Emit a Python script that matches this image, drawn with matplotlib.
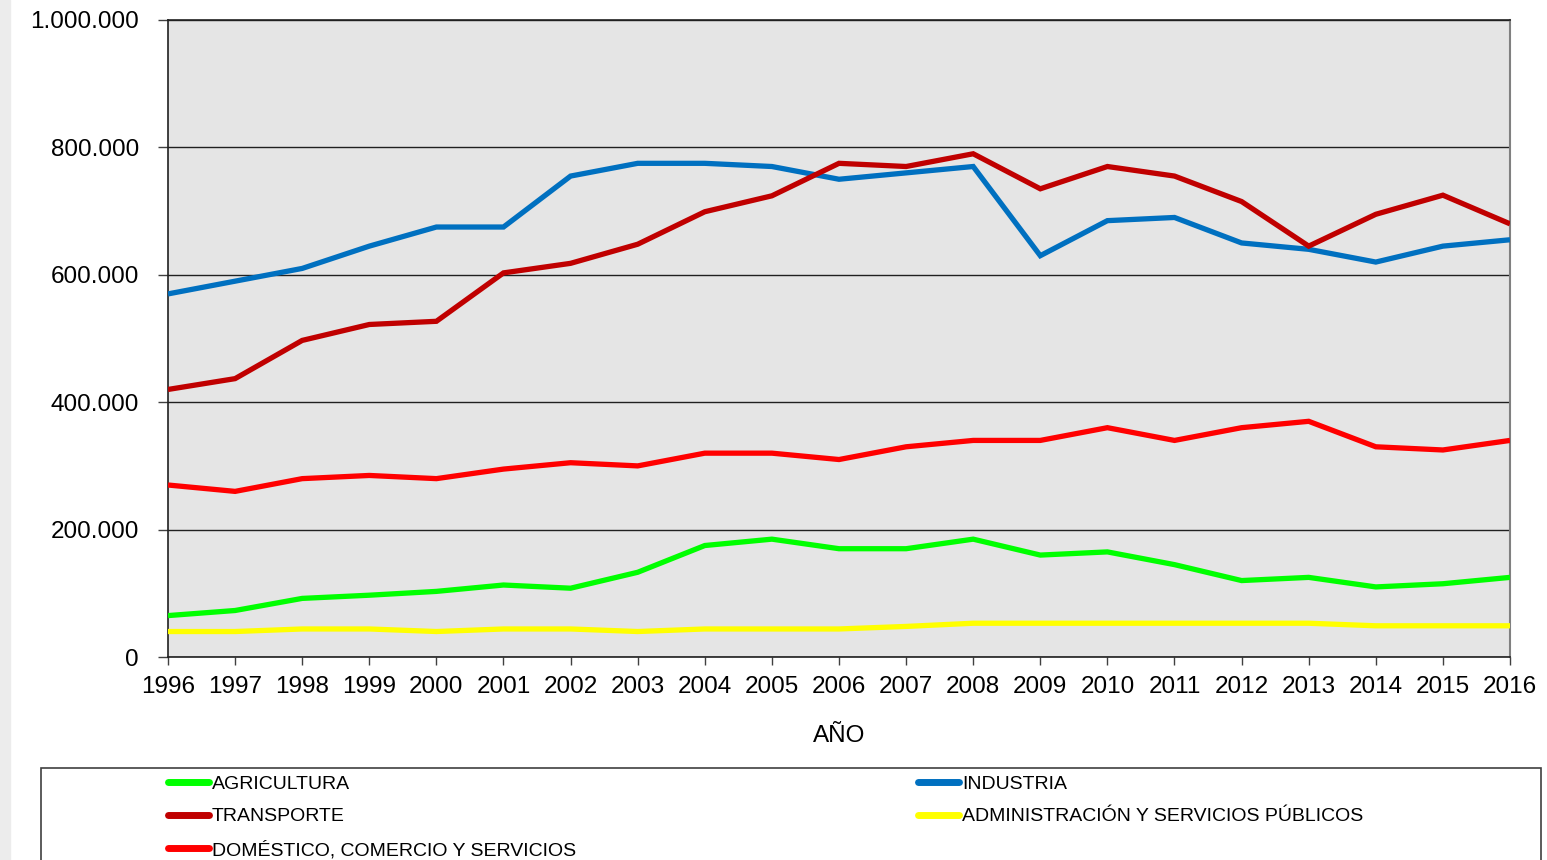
import matplotlib.pyplot as plt
from matplotlib.lines import Line2D
from matplotlib.patches import Rectangle
from matplotlib.ticker import FuncFormatter

plt.rcParams['font.family'] = ['Liberation Sans', 'DejaVu Sans']

years = list(range(1996, 2017))

agricultura = [65000, 73000, 92000, 97000, 103000, 113000, 108000, 133000, 175000, 185000, 170000,
               170000, 185000, 160000, 165000, 145000, 120000, 125000, 110000, 115000, 125000]
industria = [570000, 590000, 610000, 645000, 675000, 675000, 755000, 775000, 775000, 770000, 750000,
             760000, 770000, 630000, 685000, 690000, 650000, 640000, 620000, 645000, 655000]
transporte = [420000, 437000, 497000, 522000, 527000, 603000, 618000, 648000, 699000, 724000, 775000,
              770000, 790000, 735000, 770000, 755000, 715000, 645000, 695000, 725000, 680000]
administracion = [40000, 40000, 44000, 44000, 40000, 44000, 44000, 40000, 44000, 44000, 44000,
                  48000, 53000, 53000, 53000, 53000, 53000, 53000, 49000, 49000, 49000]
domestico = [270000, 260000, 280000, 285000, 280000, 295000, 305000, 300000, 320000, 320000, 310000,
             330000, 340000, 340000, 360000, 340000, 360000, 370000, 330000, 325000, 340000]

labels = ['AGRICULTURA', 'INDUSTRIA', 'TRANSPORTE',
          'ADMINISTRACIÓN Y SERVICIOS PÚBLICOS', 'DOMÉSTICO, COMERCIO Y SERVICIOS']
colors = ['#00ff00', '#0070c0', '#c00000', '#ffff00', '#ff0000']
series = [agricultura, industria, transporte, administracion, domestico]

fig = plt.figure(figsize=(15.47, 8.6), dpi=100)
fig.patches.append(Rectangle((0, 0), 10 / 1547, 1, transform=fig.transFigure,
                             color='#ececec', zorder=0))
ax = fig.add_axes([168 / 1547, 1 - 657 / 860, (1510 - 168) / 1547, (657 - 20) / 860])
ax.set_facecolor('#e5e5e5')

lines = {}
for name, vals, c in zip(labels, series, colors):
    lines[name], = ax.plot(years, vals, color=c, lw=3.8, solid_capstyle='butt',
                           solid_joinstyle='miter', zorder=3)

ax.set_xlim(1996, 2016)
ax.set_ylim(0, 1000000)
ax.set_xticks(years)
ax.set_yticks(range(0, 1000001, 200000))
ax.yaxis.set_major_formatter(FuncFormatter(lambda v, p: f'{v:,.0f}'.replace(',', '.')))
ax.grid(axis='y', color='#202020', lw=1, zorder=1)
ax.tick_params(axis='y', length=7, width=1, color='#404040', pad=14, labelsize=17.5)
ax.tick_params(axis='x', length=6, width=1, color='#404040', pad=8, labelsize=17.5)
for s in ['left', 'top', 'bottom']:
    ax.spines[s].set_color('#202020')
    ax.spines[s].set_linewidth(1.2)
ax.spines['right'].set_color('#808080')
ax.spines['right'].set_linewidth(1.5)
ax.set_xlabel('AÑO', fontsize=17.5, labelpad=19)

# legend box
fig.patches.append(Rectangle((41 / 1547, -0.05), 1500 / 1547, 0.05 + 1 - 768 / 860,
                             transform=fig.transFigure, fill=False, ec='#404040', lw=1.2))

col1 = ['AGRICULTURA', 'TRANSPORTE', 'DOMÉSTICO, COMERCIO Y SERVICIOS']
col2 = ['INDUSTRIA', 'ADMINISTRACIÓN Y SERVICIOS PÚBLICOS']
for names, x0 in [(col1, 168), (col2, 918)]:
    handles = [Line2D([], [], color=lines[n].get_color(), lw=5, solid_capstyle='round') for n in names]
    fig.legend(handles, names, loc='upper left', bbox_to_anchor=(x0 / 1547, 1 - 775 / 860),
               frameon=False, fontsize=14, handlelength=2.1, handletextpad=0.15,
               labelspacing=0.78, borderpad=0, borderaxespad=0)

fig.savefig('out.png', dpi=100)
